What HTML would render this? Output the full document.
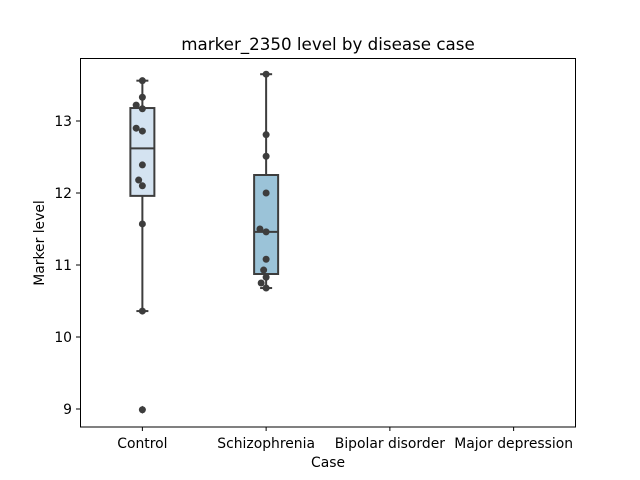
<!DOCTYPE html>
<html><head><meta charset="utf-8"><style>
html,body{margin:0;padding:0;background:#fff;}
svg{display:block;font-family:"DejaVu Sans","Liberation Sans",sans-serif;}
</style></head>
<body>
<svg id="chart" width="640" height="480">
<rect x="0" y="0" width="640" height="480" fill="#fff"/>
<g id="marks"></g>
<rect x="80.5" y="58.5" width="495" height="368.5" fill="none" stroke="#000" stroke-width="1"/>
<g id="axes"></g>
<text x="328" y="50" text-anchor="middle" font-size="16.7">marker_2350 level by disease case</text>
<text x="328" y="467" text-anchor="middle" font-size="13.9">Case</text>
<text transform="translate(44,243) rotate(-90)" text-anchor="middle" font-size="13.9">Marker level</text>
</svg>
<script>
const categories = ["Control","Schizophrenia","Bipolar disorder","Major depression"];
const yTicks = [9,10,11,12,13];
const boxQ1 = [11.96, 10.875, null, null];
const boxMedian = [12.62, 11.46, null, null];
const boxQ3 = [13.18, 12.25, null, null];
const whiskerLow = [10.36, 10.68, null, null];
const whiskerHigh = [13.56, 13.65, null, null];
const outliers = [[8.99], [], [], []];
const pointsControl = [13.56,13.33,13.22,13.17,12.90,12.86,12.39,12.18,12.10,11.57,10.36,8.99];
const jitterControl = [0,0,-0.05,0,-0.05,0,0,-0.03,0,0,0,0];
const pointsSchiz = [13.65,12.81,12.51,12.00,11.50,11.46,11.08,10.93,10.83,10.75,10.68];
const jitterSchiz = [0,0,0,0,-0.05,0,0,-0.02,0,-0.04,0];
const boxColors = ["#d4e3f1","#9bc3d8","#5a9fcb","#2c6ea8"];

const NS="http://www.w3.org/2000/svg";
const x0=80.5, bandW=123.75, yBase=13, yPix13=121, pxPerUnit=72;
function xScale(i){return x0+bandW*(i+0.5);}
function yScale(v){return yPix13+(yBase-v)*pxPerUnit;}
function mk(tag,attrs,parent){const e=document.createElementNS(NS,tag);for(const k in attrs)e.setAttribute(k,attrs[k]);parent.appendChild(e);return e;}
const marks=document.getElementById('marks'), axes=document.getElementById('axes');
const dark="#3d3d3d", halfW=12;

categories.forEach((c,i)=>{
  const cx=xScale(i);
  const t=mk('line',{x1:cx,x2:cx,y1:427,y2:431,stroke:'#000'},axes);
  
  
  const l=mk('text',{x:cx,y:448,'text-anchor':'middle','font-size':13.9},axes);
  l.textContent=c;
  
  
  if(boxQ1[i]==null) return;
  const g=mk('g',{},marks);
  
  
  const w=mk('line',{x1:cx,x2:cx,y1:yScale(whiskerLow[i]),y2:yScale(whiskerHigh[i]),stroke:dark,'stroke-width':2},g);
  
  
  [whiskerLow[i],whiskerHigh[i]].forEach(v=>{
    const cap=mk('line',{x1:cx-6,x2:cx+6,y1:yScale(v),y2:yScale(v),stroke:dark,'stroke-width':2},g);
    
    
  });
  const r=mk('rect',{x:cx-halfW,y:yScale(boxQ3[i]),width:halfW*2,height:yScale(boxQ1[i])-yScale(boxQ3[i]),fill:boxColors[i],stroke:dark,'stroke-width':2},g);
  
  
  const m=mk('line',{x1:cx-halfW,x2:cx+halfW,y1:yScale(boxMedian[i]),y2:yScale(boxMedian[i]),stroke:dark,'stroke-width':2},g);
  
  
  outliers[i].forEach(v=>{
    const y=yScale(v);
    const d=mk('polygon',{points:`${cx},${y-4} ${cx+3.5},${y} ${cx},${y+4} ${cx-3.5},${y}`,fill:dark},g);
    
    
  });
});
[[pointsControl,jitterControl,0],[pointsSchiz,jitterSchiz,1]].forEach(([pts,jit,i])=>{
  pts.forEach((v,k)=>{
    const p=mk('circle',{cx:xScale(i)+jit[k]*bandW,cy:yScale(v),r:3.5,fill:dark},marks);
    
    
  });
});
yTicks.forEach(v=>{
  const y=yScale(v);
  const t=mk('line',{x1:76,x2:80.5,y1:y,y2:y,stroke:'#000'},axes);
  
  
  const l=mk('text',{x:72,y:y+5,'text-anchor':'end','font-size':13.9},axes);
  l.textContent=v;
  
  
});
</script>
</body></html>
